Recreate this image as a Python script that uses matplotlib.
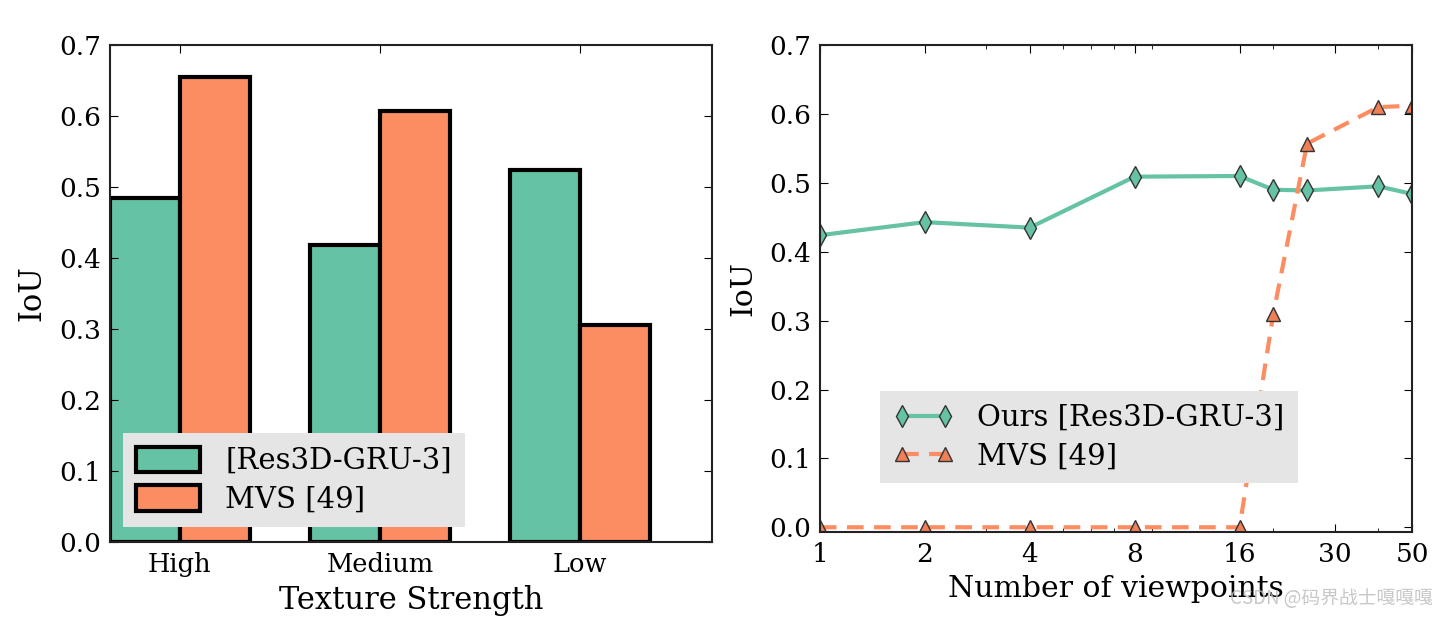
import matplotlib
matplotlib.use("Agg")
import matplotlib.pyplot as plt
from matplotlib.ticker import FixedLocator, FixedFormatter, LogLocator, NullFormatter

plt.rcParams['font.family'] = ['DejaVu Serif']
plt.rcParams['xtick.direction'] = 'in'
plt.rcParams['ytick.direction'] = 'in'

# Left chart data
texture = ["High", "Medium", "Low"]
ours_bar = [0.484, 0.418, 0.524]
mvs_bar = [0.655, 0.607, 0.306]

# Right chart data
views = [1, 2, 4, 8, 16, 20, 25, 40, 50]
ours_line = [0.424, 0.443, 0.435, 0.509, 0.510, 0.490, 0.489, 0.495, 0.484]
mvs_line = [0.0, 0.0, 0.0, 0.0, 0.0, 0.310, 0.557, 0.610, 0.612]
view_ticks = [1, 2, 4, 8, 16, 30, 50]

green = "#66c2a5"
orange = "#fc8d62"

fig = plt.figure(figsize=(14.46, 6.18), dpi=100)
ax1 = fig.add_axes([0.076, 0.123, 0.4164, 0.804])
ax2 = fig.add_axes([0.567, 0.139, 0.4095, 0.788])

w = 0.35
xs = list(range(len(texture)))
ax1.bar([x - w / 2 for x in xs], ours_bar, w, color=green, edgecolor="black", linewidth=3, label="[Res3D-GRU-3]")
ax1.bar([x + w / 2 for x in xs], mvs_bar, w, color=orange, edgecolor="black", linewidth=3, label="MVS [49]")
ax1.set_xlim(-0.35, 2.66)
ax1.set_ylim(0, 0.7)
ax1.set_xticks(xs)
ax1.set_xticklabels(texture)
ax1.set_xlabel("Texture Strength", fontsize=22, labelpad=6)
ax1.set_ylabel("IoU", fontsize=22, labelpad=9)
ax1.tick_params(axis='x', labelsize=18.5, top=True, length=6, pad=7)
ax1.tick_params(axis='y', labelsize=19, right=True, length=6, pad=6)
ax1.legend(loc="lower left", bbox_to_anchor=(0.022, 0.03), borderaxespad=0, fontsize=21,
           facecolor="#e5e5e5", framealpha=1, edgecolor="none", fancybox=False,
           handlelength=2.2, handleheight=0.95, handletextpad=0.85, borderpad=0.45, labelspacing=0.35)

ax2.plot(views, ours_line, color=green, linewidth=3, marker="d", markersize=11,
         markerfacecolor=green, markeredgecolor="#333333", markeredgewidth=1, label="Ours [Res3D-GRU-3]")
ax2.plot(views, mvs_line, color=orange, linewidth=3, linestyle="--", dashes=(4, 2.5), marker="^", markersize=10,
         markerfacecolor="#f07f55", markeredgecolor="#333333", markeredgewidth=1, label="MVS [49]")
ax2.set_xscale("log")
ax2.set_xlim(1, 50)
ax2.set_ylim(-0.007, 0.7)
ax2.xaxis.set_major_locator(FixedLocator(view_ticks))
ax2.xaxis.set_major_formatter(FixedFormatter([str(v) for v in view_ticks]))
ax2.xaxis.set_minor_locator(LogLocator(base=10, subs=range(2, 10)))
ax2.xaxis.set_minor_formatter(NullFormatter())
ax2.set_xlabel("Number of viewpoints", fontsize=21.5, labelpad=6)
ax2.set_ylabel("IoU", fontsize=21.5, labelpad=9)
ax2.tick_params(axis='x', which='major', labelsize=19, top=True, length=6, pad=7)
ax2.tick_params(axis='x', which='minor', top=True, length=3)
ax2.tick_params(axis='y', labelsize=19, right=True, length=6, pad=6)
ax2.legend(loc="lower left", bbox_to_anchor=(0.101, 0.1), borderaxespad=0, fontsize=21,
           facecolor="#e5e5e5", framealpha=1, edgecolor="none", fancybox=False, numpoints=2,
           handlelength=2.1, handletextpad=0.8, borderpad=0.45, labelspacing=0.35)

for ax in (ax1, ax2):
    for s in ax.spines.values():
        s.set_linewidth(1.5)
        s.set_color("#222222")

fig.text(0.991, 0.015, "CSDN @码界战士嘎嘎嘎", ha="right", va="bottom", fontsize=13.5,
         color="#bbbbbb", alpha=0.8, family=["Noto Sans CJK SC", "DejaVu Sans"])

fig.savefig("out.png", dpi=100)
